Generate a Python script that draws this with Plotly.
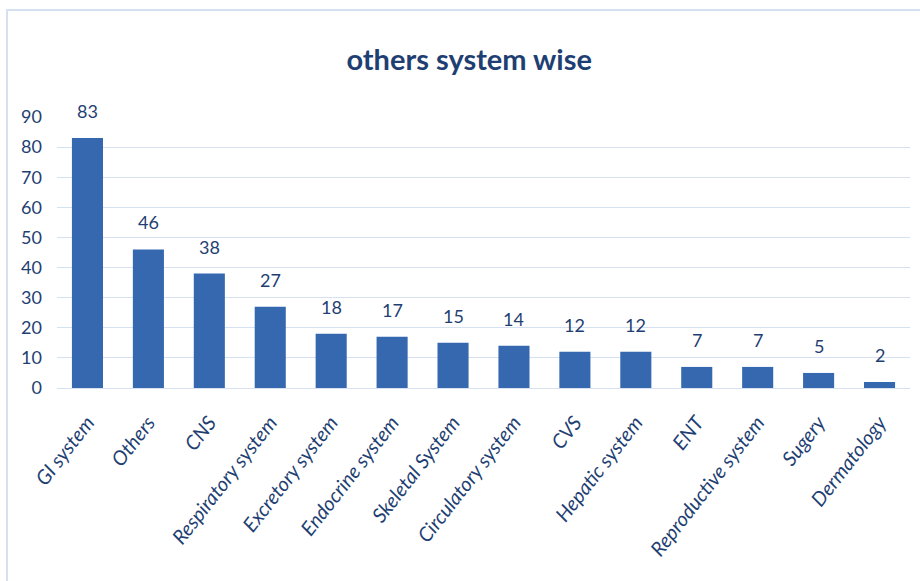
import plotly.graph_objects as go

categories = ["GI system", "Others", "CNS", "Respiratory system", "Excretory system",
              "Endocrine system", "Skeletal System", "Circulatory system", "CVS",
              "Hepatic system", "ENT", "Reproductive system", "Sugery", "Dermatology"]
values = [83, 46, 38, 27, 18, 17, 15, 14, 12, 12, 7, 7, 5, 2]
y_ticks = [0, 10, 20, 30, 40, 50, 60, 70, 80, 90]

dark = "#1F3F73"
fig = go.Figure()
fig.add_trace(go.Bar(
    x=categories, y=values,
    marker=dict(color="#3568AE", line=dict(width=0)),
    cliponaxis=False,
))
for c, v in zip(categories, values):
    fig.add_annotation(x=c, y=v, text=str(v), showarrow=False, yanchor="middle", yshift=27,
                       font=dict(family="Lato", size=18, color=dark))
fig.update_layout(
    width=920, height=581,
    margin=dict(l=57, r=10, t=117, b=193),
    paper_bgcolor="white", plot_bgcolor="white",
    bargap=0.49,
    showlegend=False,
    title=dict(text="<b>others system wise</b>", x=0.51, xanchor="center", y=0.897, yanchor="middle",
               font=dict(family="Lato", size=29, color="#1F3F73")),
    xaxis=dict(tickangle=-52, tickfont=dict(family="Lato", size=20, color=dark, style="italic"),
               showgrid=False, showline=True, linecolor="#D5E1F0", ticks="", ticklabelstandoff=14),
    yaxis=dict(range=[0, 90], tickvals=y_ticks, gridcolor="#D5E1F0", zeroline=False,
               tickfont=dict(family="Lato", size=18, color=dark), ticks="", ticklabelstandoff=14),
    shapes=[dict(type="rect", xref="paper", yref="paper", x0=-0.0586, x1=1.03, y0=-0.75, y1=1.395,
                 line=dict(color="#D5E1F0", width=2), layer="below")],
)
fig.write_html("out.html")
